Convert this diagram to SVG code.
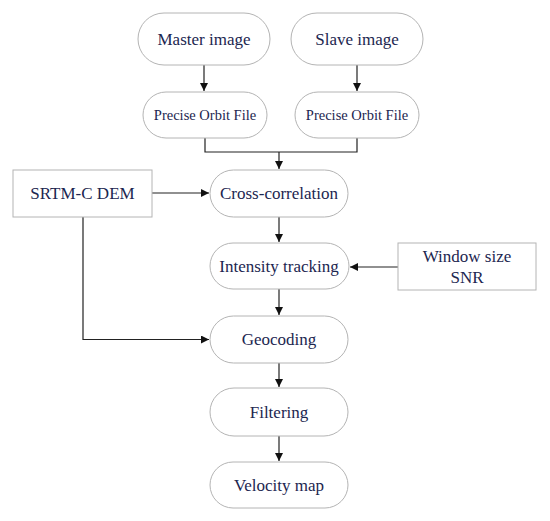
<svg xmlns="http://www.w3.org/2000/svg" width="550" height="521" viewBox="0 0 550 521">
<defs>
<style>
.n{fill:#fff;stroke:#b4b4b4;stroke-width:1}
.t{font-family:"Liberation Serif","Times New Roman",serif;font-size:17px;fill:#1c2650;text-anchor:middle;dominant-baseline:central}
.s{font-size:14.5px}
.c{fill:none;stroke:#222;stroke-width:1.2}
</style>
<marker id="a" viewBox="0 0 10 10" refX="10" refY="5" markerWidth="8" markerHeight="8" markerUnits="userSpaceOnUse" orient="auto">
<path d="M0,0 L10,5 L0,10 z" fill="#111"/>
</marker>
</defs>
<rect width="550" height="521" fill="#fff"/>
<g id="connectors">
<path class="c" d="M204,65 V91" marker-end="url(#a)"/>
<path class="c" d="M357,65 V91" marker-end="url(#a)"/>
<path class="c" d="M205,138 V152 H357 V138"/>
<path class="c" d="M279,152 V169" marker-end="url(#a)"/>
<path class="c" d="M152,193 H209" marker-end="url(#a)"/>
<path class="c" d="M279,217 V242" marker-end="url(#a)"/>
<path class="c" d="M398,267 H350" marker-end="url(#a)"/>
<path class="c" d="M279,289 V315" marker-end="url(#a)"/>
<path class="c" d="M83,217 V339.5 H209" marker-end="url(#a)"/>
<path class="c" d="M279,363 V387" marker-end="url(#a)"/>
<path class="c" d="M279,436 V461" marker-end="url(#a)"/>
</g>
<g id="master"><rect class="n" x="138" y="13" width="132" height="52" rx="26"/><text class="t" x="204" y="39">Master image</text></g>
<g id="slave"><rect class="n" x="291" y="13" width="132" height="52" rx="26"/><text class="t" x="357" y="39">Slave image</text></g>
<g id="pof1"><rect class="n" x="143" y="92" width="124" height="46" rx="23"/><text class="t s" x="205" y="115">Precise Orbit File</text></g>
<g id="pof2"><rect class="n" x="295" y="92" width="124" height="46" rx="23"/><text class="t s" x="357" y="115">Precise Orbit File</text></g>
<g id="srtm"><rect class="n" x="13" y="170" width="139" height="47"/><text class="t" x="82.5" y="193">SRTM-C DEM</text></g>
<g id="xcorr"><rect class="n" x="210" y="170" width="138" height="47" rx="23.5"/><text class="t" x="279" y="193">Cross-correlation</text></g>
<g id="intensity"><rect class="n" x="210" y="243" width="139" height="46" rx="23"/><text class="t" x="279" y="266">Intensity tracking</text></g>
<g id="window"><rect class="n" x="398" y="243" width="138" height="47"/><text class="t" x="467" y="256">Window size</text><text class="t" x="467" y="277">SNR</text></g>
<g id="geocoding"><rect class="n" x="210" y="316" width="138" height="47" rx="23.5"/><text class="t" x="279" y="339">Geocoding</text></g>
<g id="filtering"><rect class="n" x="210" y="388" width="138" height="48" rx="24"/><text class="t" x="279" y="412">Filtering</text></g>
<g id="velocity"><rect class="n" x="210" y="462" width="138" height="46" rx="23"/><text class="t" x="279" y="485">Velocity map</text></g>
</svg>
